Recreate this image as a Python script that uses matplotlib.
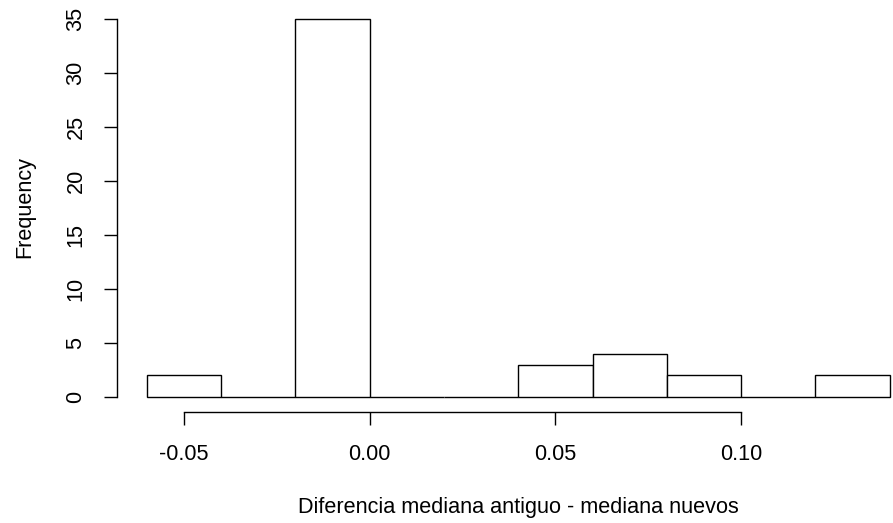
import matplotlib
matplotlib.use("Agg")
import matplotlib.pyplot as plt
import numpy as np

# Histogram of differences between medians
bin_edges = [-0.06, -0.04, -0.02, 0.00, 0.02, 0.04, 0.06, 0.08, 0.10, 0.12, 0.14]
counts = [2, 0, 35, 0, 0, 3, 4, 2, 0, 2]
x_ticks = [-0.05, 0.00, 0.05, 0.10]
x_tick_labels = ["-0.05", "0.00", "0.05", "0.10"]
y_ticks = [0, 5, 10, 15, 20, 25, 30, 35]

plt.rcParams["font.family"] = ["Liberation Sans", "DejaVu Sans"]

W, H = 893, 523
fig = plt.figure(figsize=(W / 100, H / 100), dpi=100)
# plot region in pixels
left, right, top, bottom = 117.0, 919.5, 3.9, 412.1
ax = fig.add_axes([left / W, (H - bottom) / H, (right - left) / W, (bottom - top) / H])

edges = np.array(bin_edges)
widths = np.diff(edges)
ax.bar(edges[:-1], counts, width=widths, align="edge",
       facecolor="white", edgecolor="black", linewidth=1.0)

xr = edges[-1] - edges[0]
ax.set_xlim(edges[0] - 0.04 * xr, edges[-1] + 0.04 * xr)
ax.set_ylim(-0.04 * 35, 35 * 1.04)

for s in ["top", "right"]:
    ax.spines[s].set_visible(False)
ax.spines["left"].set_bounds(0, 35)
ax.spines["bottom"].set_bounds(-0.05, 0.10)
for s in ["left", "bottom"]:
    ax.spines[s].set_linewidth(1.0)
    ax.spines[s].set_color("black")

ax.set_xticks(x_ticks)
ax.set_xticklabels(x_tick_labels)
ax.set_yticks(y_ticks)
ax.set_yticklabels([str(v) for v in y_ticks], rotation=90, va="center")

fs = 15.6
ax.tick_params(axis="both", length=9.4, width=1.0, color="black",
               labelsize=fs, labelcolor="black", direction="out")
ax.tick_params(axis="x", pad=13.5)
ax.tick_params(axis="y", pad=12.5)

fig.text(left / W + (right - left) / W / 2, 1 - 508 / H,
         "Diferencia mediana antiguo - mediana nuevos",
         ha="center", va="center", fontsize=fs, color="black")
fig.text(25 / W, 1 - 207 / H, "Frequency", rotation=90,
         ha="center", va="center", fontsize=fs, color="black")

fig.savefig("out.png", dpi=100)
